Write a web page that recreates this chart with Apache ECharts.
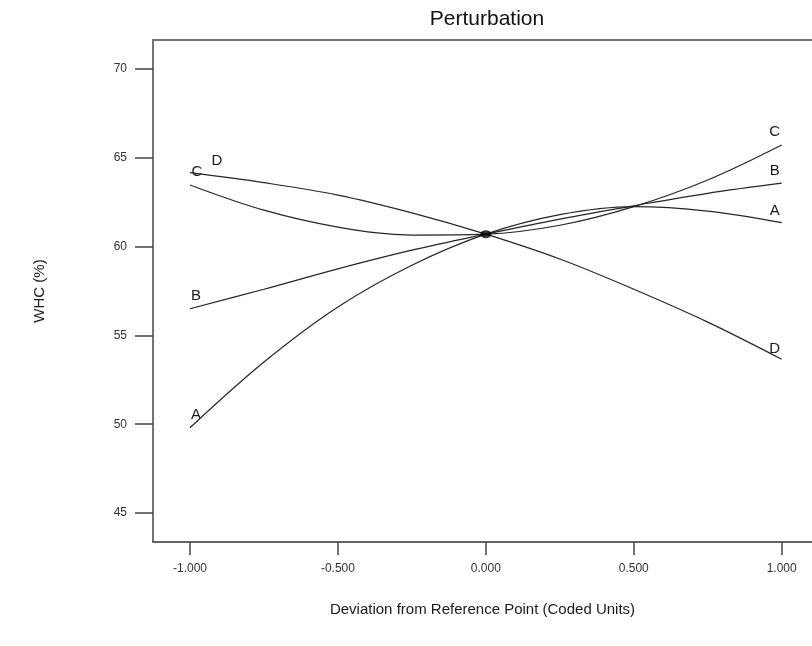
<!DOCTYPE html>
<html>
<head>
<meta charset="utf-8">
<script src="https://cdn.jsdelivr.net/npm/echarts@6/dist/echarts.min.js"></script>
<style>html,body{margin:0;padding:0;background:#fff}#c{width:812px;height:646px}</style>
</head>
<body>
<div id="c"></div>
<script>
// Data
const xValues = [-1, -0.75, -0.5, -0.25, 0, 0.25, 0.5, 0.75, 1];
const seriesA = [49.8, 53.5, 56.6, 58.95, 60.7, 61.8, 62.25, 62.0, 61.35];
const seriesB = [56.5, 57.6, 58.75, 59.8, 60.7, 61.55, 62.3, 63.0, 63.57];
const seriesC = [63.47, 62.05, 61.1, 60.65, 60.7, 61.2, 62.25, 63.75, 65.72];
const seriesD = [64.16, 63.6, 62.9, 61.9, 60.7, 59.3, 57.6, 55.75, 53.66];
const seriesNames = ['A', 'B', 'C', 'D'];
const referencePoint = [0, 60.7];
const xTicks = [-1, -0.5, 0, 0.5, 1];
const yTicks = [45, 50, 55, 60, 65, 70];

const FONT = '"Liberation Sans", Arial, sans-serif';
const chart = echarts.init(document.getElementById('c'));

// label offsets for the start/end tags
const startOffsets = { A: [6, -13], B: [6, -13], C: [7, -13], D: [27, -12] };
const endOffsets = { A: [-7, -12], B: [-7, -12], C: [-7, -13], D: [-7, -10] };

function buildSeries(name, vals) {
  const data = xValues.map((x, i) => {
    const item = { value: [x, vals[i]] };
    if (i === 0 || i === xValues.length - 1) {
      item.label = {
        show: true,
        position: 'inside',
        offset: i === 0 ? startOffsets[name] : endOffsets[name],
        formatter: name,
        fontFamily: FONT,
        fontSize: 15,
        color: '#1a1a1a'
      };
    }
    return item;
  });
  return {
    name: name,
    type: 'line',
    smooth: 0.35,
    data: data,
    symbol: 'circle',
    symbolSize: 0.1,
    showSymbol: true,
    itemStyle: { color: 'rgba(0,0,0,0)' },
    lineStyle: { color: '#262626', width: 1.2 },
    label: { show: false },
    emphasis: { disabled: true },
    silent: true,
    z: 3
  };
}

const allSeries = [seriesA, seriesB, seriesC, seriesD];
const series = seriesNames.map((n, i) => buildSeries(n, allSeries[i]));
series.push({
  type: 'scatter',
  data: [referencePoint],
  symbol: 'circle',
  symbolSize: [11, 8],
  itemStyle: { color: '#000' },
  silent: true,
  z: 5
});

chart.setOption({
  animation: false,
  backgroundColor: '#fff',
  graphic: [{
    type: 'text',
    x: 487, y: 19,
    style: {
      text: 'Perturbation',
      font: '21px ' + FONT,
      fill: '#111',
      textAlign: 'center',
      textVerticalAlign: 'middle'
    }
  }],
  grid: { left: 153, right: 0, top: 40, bottom: 104, containLabel: false },
  xAxis: [{
    type: 'value',
    min: -1.125,
    max: 1.1024,
    position: 'bottom',
    name: 'Deviation from Reference Point (Coded Units)',
    nameLocation: 'middle',
    nameGap: 60,
    nameTextStyle: { fontFamily: FONT, fontSize: 15, color: '#1a1a1a' },
    axisLine: { show: true, onZero: false, lineStyle: { color: '#333', width: 1.5 } },
    axisTick: { show: true, inside: false, length: 13, customValues: xTicks, lineStyle: { color: '#444', width: 1.5 } },
    axisLabel: { show: true, customValues: xTicks, margin: 21, fontFamily: FONT, fontSize: 12, color: '#333',
      formatter: v => v.toFixed(3) },
    splitLine: { show: false }
  }, {
    type: 'value',
    min: -1.125,
    max: 1.1024,
    position: 'top',
    axisLine: { show: true, onZero: false, lineStyle: { color: '#777', width: 2 } },
    axisTick: { show: false },
    axisLabel: { show: false },
    splitLine: { show: false }
  }],
  yAxis: {
    type: 'value',
    min: 43.37,
    max: 71.63,
    name: 'WHC (%)',
    nameLocation: 'middle',
    nameGap: 106,
    nameTextStyle: { fontFamily: FONT, fontSize: 15, color: '#1a1a1a' },
    axisLine: { show: true, onZero: false, lineStyle: { color: '#444', width: 1.5 } },
    axisTick: { show: true, inside: false, length: 18, customValues: yTicks, lineStyle: { color: '#444', width: 1.5 } },
    axisLabel: { show: true, customValues: yTicks, margin: 26, fontFamily: FONT, fontSize: 12, color: '#333' },
    splitLine: { show: false }
  },
  series: series
});
</script>
</body>
</html>
